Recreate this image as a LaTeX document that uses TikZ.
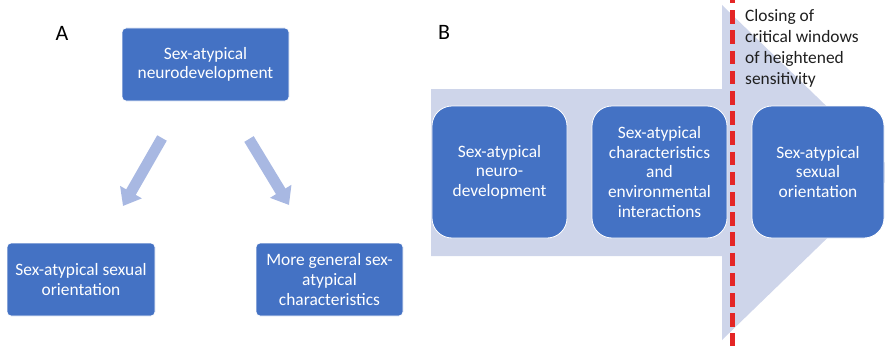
\documentclass[tikz,border=0pt]{standalone}
\usepackage{fontspec}
\setmainfont{Carlito}
\usetikzlibrary{arrows.meta}
\definecolor{boxblue}{HTML}{4472C4}
\definecolor{paleband}{RGB}{206,213,234}
\definecolor{arrowblue}{RGB}{168,184,226}
\definecolor{dashred}{RGB}{228,38,38}
\begin{document}
\begin{tikzpicture}[x=1pt,y=-1pt,
  box/.style={draw=white, line width=0.8pt, fill=boxblue, text=white, align=center,
    font=\fontsize{17.4}{19.6}\selectfont, inner sep=0pt},
  boxA/.style={box, rounded corners=4pt, minimum height=73pt},
  boxB/.style={box, rounded corners=20pt, minimum height=132pt},
  panel/.style={font=\fontsize{22}{26}\selectfont, inner sep=0pt, text=black},
  fatarrow/.style={draw=arrowblue, line width=11pt,
    -{Triangle[length=16pt,width=24pt]}}
]
\useasboundingbox (0,0) rectangle (885,345);
\clip (0,0) rectangle (885,345);

% ---------- panel A ----------
\node[panel] (labA) at (62,33) {A};
\node[boxA, minimum width=167pt] (top) at (205.5,64.5) {Sex-atypical\\neurodevelopment};
\node[boxA, minimum width=148pt] (left) at (81,279.5) {Sex-atypical sexual\\orientation};
\node[boxA, minimum width=147pt] (right) at (329.5,279.5) {More general sex-\\atypical\\characteristics};

\coordinate (la) at (162,138);
\coordinate (lb) at (123,206);
\coordinate (ra) at (249,139);
\coordinate (rb) at (289,205);
\draw[fatarrow] (la) -- (lb);
\draw[fatarrow] (ra) -- (rb);

% ---------- panel B ----------
\node[panel] (labB) at (444,32) {B};

% broad pale arrow behind the process boxes
\fill[paleband] (431,89) -- (722,89) -- (722,5) -- (895,172.5)
  -- (722,340) -- (722,256) -- (431,256) -- cycle;

\node[boxB, minimum width=135pt] (b1) at (499.5,172) {Sex-atypical\\neuro-\\development};
\node[boxB, minimum width=135pt] (b2) at (659.5,172) {Sex-atypical\\characteristics\\and\\environmental\\interactions};
\node[boxB, minimum width=132pt] (b3) at (818,172) {Sex-atypical\\sexual\\orientation};

% closing of the critical windows
\coordinate (dtop) at (732,-10);
\coordinate (dbot) at (732,350);
\draw[dashred, line width=5pt, dash pattern=on 13.5pt off 6.7pt] (dtop) -- (dbot);

\node[anchor=north west, align=left, inner sep=0pt, text=black!88,
  font=\fontsize{17.4}{21}\selectfont] (close) at (745,9.5)
  {Closing of\\critical windows\\of heightened\\sensitivity};
\end{tikzpicture}
\end{document}
